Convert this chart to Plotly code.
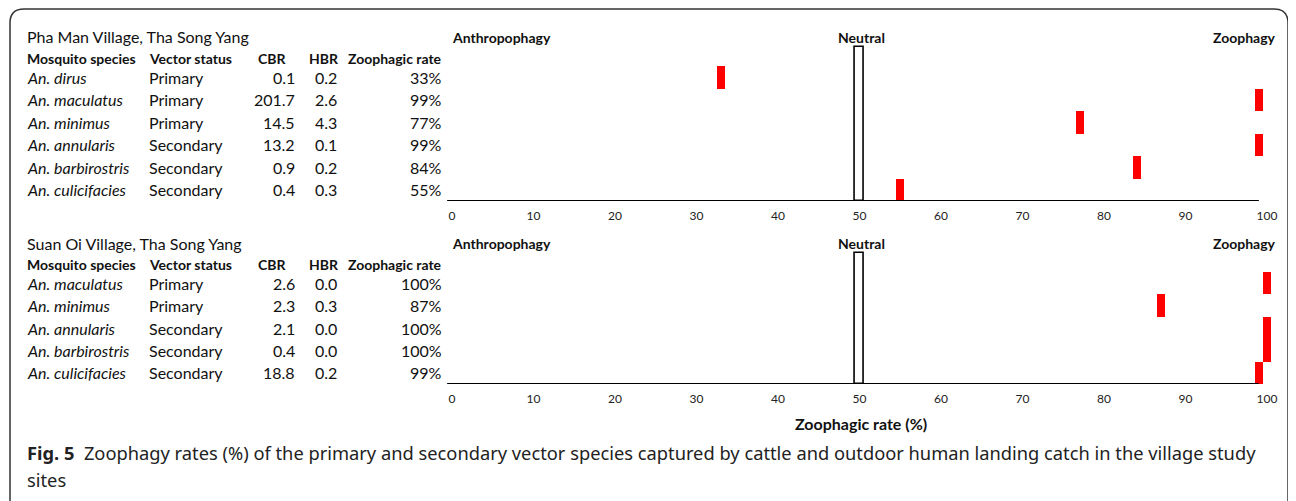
import plotly.graph_objects as go

# page body has an 8px margin: figure is sized to fill the rest of the window
OFF = 8
W, H = 1296 - OFF, 501 - OFF

# ---------------- data ----------------
top_title = "Pha Man Village, Tha Song Yang"
top_species = ["An. dirus", "An. maculatus", "An. minimus", "An. annularis", "An. barbirostris", "An. culicifacies"]
top_status = ["Primary", "Primary", "Primary", "Secondary", "Secondary", "Secondary"]
top_cbr = ["0.1", "201.7", "14.5", "13.2", "0.9", "0.4"]
top_hbr = ["0.2", "2.6", "4.3", "0.1", "0.2", "0.3"]
top_rate = [33, 99, 77, 99, 84, 55]

bot_title = "Suan Oi Village, Tha Song Yang"
bot_species = ["An. maculatus", "An. minimus", "An. annularis", "An. barbirostris", "An. culicifacies"]
bot_status = ["Primary", "Primary", "Secondary", "Secondary", "Secondary"]
bot_cbr = ["2.6", "2.3", "2.1", "0.4", "18.8"]
bot_hbr = ["0.0", "0.3", "0.0", "0.0", "0.2"]
bot_rate = [100, 87, 100, 100, 99]

headers = ["Mosquito species", "Vector status", "CBR", "HBR", "Zoophagic rate"]
neutral_value = 50
x_ticks = [0, 10, 20, 30, 40, 50, 60, 70, 80, 90, 100]

# ---------------- layout helpers (window pixel -> paper) ----------------
def px(x):
    return (x - OFF) / W

def py(y):
    return 1 - (y - OFF) / H

X0_PX, PX_PER_UNIT = 452.0, 8.15
XR = [-1.0, 102.0]
xdom = [px(X0_PX + XR[0] * PX_PER_UNIT), px(X0_PX + XR[1] * PX_PER_UNIT)]

TABLE_FONT = "Lato, Open Sans, sans-serif"
RED = "#FF0000"
TXT = "#111"

fig = go.Figure()

panels = [
    dict(title=top_title, species=top_species, status=top_status, cbr=top_cbr, hbr=top_hbr,
         rate=top_rate, xa="x", ya="y", base_px=201, row_px=22.5, top_px=30),
    dict(title=bot_title, species=bot_species, status=bot_status, cbr=bot_cbr, hbr=bot_hbr,
         rate=bot_rate, xa="x2", ya="y2", base_px=384, row_px=22.4, top_px=235),
]

annotations = []
shapes = []

for i, p in enumerate(panels):
    n = len(p["species"])
    rows = [n - 1 - k for k in range(n)]  # row base positions (top row highest)
    centers = [r + 0.5 for r in rows]
    # neutral outline box
    fig.add_trace(go.Bar(x=[neutral_value], y=[n + 0.85], base=[0], width=1.05,
                         marker=dict(color="white", line=dict(color="black", width=1.6)),
                         xaxis=p["xa"], yaxis=p["ya"], showlegend=False, hoverinfo="skip"))
    # zoophagic rate bars
    fig.add_trace(go.Bar(x=p["rate"], y=[1] * n, base=rows, width=1.0,
                         marker=dict(color=RED, line=dict(width=0)),
                         xaxis=p["xa"], yaxis=p["ya"], showlegend=False,
                         hovertext=p["species"]))
    yref = p["ya"]
    xax = "xaxis" if i == 0 else "xaxis2"
    yax = "yaxis" if i == 0 else "yaxis2"
    yrng = (p["base_px"] - p["top_px"]) / p["row_px"]
    fig.update_layout({
        xax: dict(domain=xdom, range=XR, anchor=yref, tickvals=x_ticks, showgrid=False,
                  zeroline=False, showline=False, ticks="outside", ticklen=4, tickcolor="rgba(0,0,0,0)",
                  tickfont=dict(family=TABLE_FONT, size=12, color="#222")),
        yax: dict(domain=[py(p["base_px"]), py(p["top_px"])], range=[0, yrng], anchor=p["xa"],
                  visible=False, fixedrange=True),
    })
    # axis baseline
    shapes.append(dict(type="line", xref=p["xa"], yref=yref, x0=-0.6, x1=99, y0=0, y1=0,
                       line=dict(color="black", width=2.2)))
    # texts
    title_y = n + 1.29
    head_y = n + 0.34
    annotations.append(dict(x=px(25), y=title_y, xref="paper", yref=yref, text=p["title"],
                            xanchor="left", yanchor="middle", showarrow=False,
                            font=dict(family=TABLE_FONT, size=16, color=TXT)))
    hx = [(25, "left"), (147, "left"), (272, "center"), (324, "center"), (444, "right")]
    for (hxp, anc), htxt in zip(hx, headers):
        annotations.append(dict(x=px(hxp), y=head_y, xref="paper", yref=yref, text="<b>%s</b>" % htxt,
                                xanchor=anc, yanchor="middle", showarrow=False,
                                font=dict(family=TABLE_FONT, size=14, color=TXT)))
    for k in range(n):
        cy = centers[k]
        cells = [(25, "left", "<i>%s</i>" % p["species"][k]), (147, "left", p["status"][k]),
                 (297, "right", p["cbr"][k]), (339, "right", p["hbr"][k]),
                 (444, "right", "%d%%" % p["rate"][k])]
        for cx, anc, t in cells:
            annotations.append(dict(x=px(cx), y=cy, xref="paper", yref=yref, text=t,
                                    xanchor=anc, yanchor="middle", showarrow=False,
                                    font=dict(family=TABLE_FONT, size=16, color=TXT)))
    # phagy labels
    for lx, anc, t in [(450, "left", "Anthropophagy"), (861, "center", "Neutral"), (1278, "right", "Zoophagy")]:
        annotations.append(dict(x=px(lx), y=title_y - 0.03, xref="paper", yref=yref, text="<b>%s</b>" % t,
                                xanchor=anc, yanchor="middle", showarrow=False,
                                font=dict(family=TABLE_FONT, size=14, color=TXT)))

# x-axis title
annotations.append(dict(x=px(861), y=py(423), xref="paper", yref="paper", text="<b>Zoophagic rate (%)</b>",
                        xanchor="center", yanchor="middle", showarrow=False,
                        font=dict(family=TABLE_FONT, size=16, color=TXT)))
# caption
CAP_FONT = "Noto Sans, Open Sans, sans-serif"
annotations.append(dict(x=px(25), y=py(452), xref="paper", yref="paper",
                        text="<b>Fig. 5</b>  Zoophagy rates (%) of the primary and secondary vector species captured by cattle and outdoor human landing catch in the village study",
                        xanchor="left", yanchor="middle", showarrow=False,
                        font=dict(family=CAP_FONT, size=18.3, color="#222")))
annotations.append(dict(x=px(25), y=py(479), xref="paper", yref="paper", text="sites",
                        xanchor="left", yanchor="middle", showarrow=False,
                        font=dict(family=CAP_FONT, size=18.3, color="#222")))

# rounded frame
L, T, R, B, r = 10, 9, 1288, 515, 14
path = (f"M {px(L)},{py(T + r)} Q {px(L)},{py(T)} {px(L + r)},{py(T)} "
        f"L {px(R - r)},{py(T)} Q {px(R)},{py(T)} {px(R)},{py(T + r)} "
        f"L {px(R)},{py(B)} L {px(L)},{py(B)} Z")
shapes.append(dict(type="path", xref="paper", yref="paper", path=path,
                   line=dict(color="#333", width=1.5), fillcolor="rgba(0,0,0,0)", layer="below"))

fig.update_layout(width=W, height=H, margin=dict(l=0, r=0, t=0, b=0),
                  paper_bgcolor="white", plot_bgcolor="rgba(0,0,0,0)",
                  barmode="overlay", bargap=0, annotations=annotations, shapes=shapes,
                  showlegend=False)

fig.write_html("out.html")
